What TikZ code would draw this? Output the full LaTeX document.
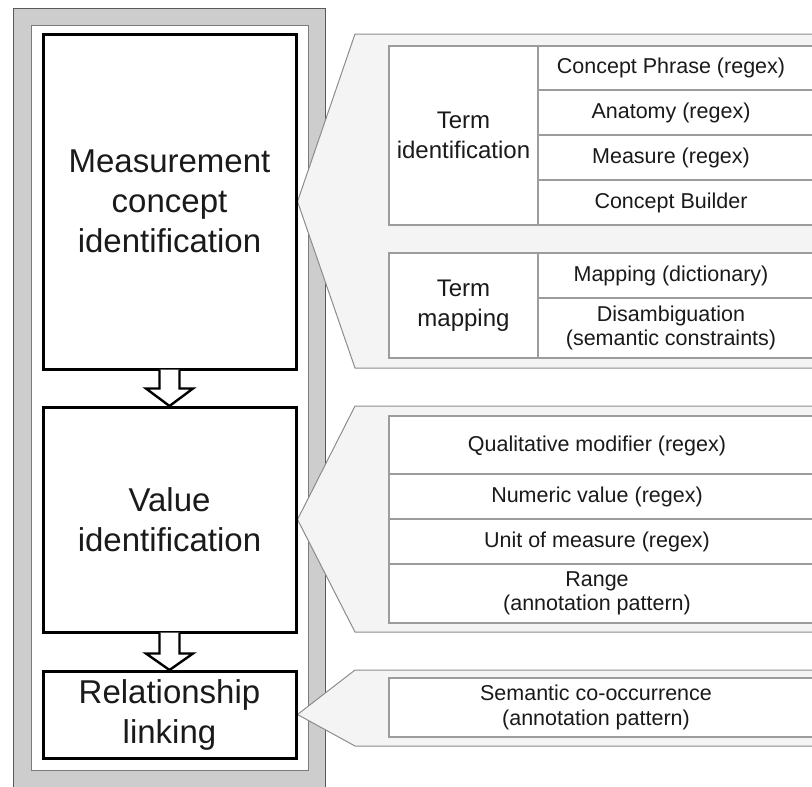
\documentclass[tikz,border=0pt]{standalone}
\usepackage{fontspec}
\setmainfont{Liberation Sans}
\usetikzlibrary{calc}
\pgfdeclarelayer{bglayer}
\pgfdeclarelayer{midlayer}
\pgfsetlayers{bglayer,midlayer,main}
\definecolor{framegray}{HTML}{CDCDCD}
\definecolor{frameline}{HTML}{5A5A5A}
\definecolor{calloutfill}{HTML}{F4F4F4}
\definecolor{calloutline}{HTML}{8C8C8C}
\definecolor{cellline}{HTML}{9C9C9C}
\definecolor{inktext}{HTML}{1A1A1A}
\begin{document}
\begin{tikzpicture}[x=1pt,y=-1pt,
  mainbox/.style={draw=black, line width=3pt, fill=white, align=center, text=inktext,
    font=\fontsize{33}{40}\selectfont, inner sep=0pt},
  hollowarrow/.style={draw=black, line width=2.4pt, fill=white, line join=miter},
  callout/.style={draw=calloutline, line width=1pt, fill=calloutfill},
  cell/.style={draw=cellline, line width=1.3pt, fill=white},
  celltext/.style={align=center, text=inktext, font=\fontsize{21.5}{24.5}\selectfont, inner sep=0pt},
  grouptext/.style={align=center, text=inktext, font=\fontsize{24}{30}\selectfont, inner sep=0pt}
]
\useasboundingbox (0,0) rectangle (812,787);
\clip (0,0) rectangle (812,787);

% frame
\begin{pgfonlayer}{bglayer}
\draw[fill=framegray, draw=frameline, line width=1pt] (13.5,8) rectangle (325,800);
\draw[fill=white, draw=frameline!80, line width=1pt] (31,25) rectangle (308,770);
\end{pgfonlayer}

% main stage boxes
\node[mainbox, minimum width=253pt, minimum height=335pt] (mc) at (169.5,201.5)
  {Measurement\\concept\\identification};
\node[mainbox, minimum width=253pt, minimum height=225pt] (vi) at (169.5,519.5)
  {Value\\identification};
\node[mainbox, minimum width=253pt, minimum height=87pt] (rl) at (169.5,714.5)
  {Relationship\\linking};

% hollow arrows
\draw[hollowarrow] ($(mc.south)+(-10,-1)$) -- ($(mc.south)+(-10,18)$) -- ($(mc.south)+(-23.5,18)$)
  -- ($(vi.north)+(0,0.5)$) -- ($(mc.south)+(23.5,18)$) -- ($(mc.south)+(10,18)$) -- ($(mc.south)+(10,-1)$);
\draw[hollowarrow] ($(vi.south)+(-10,-1)$) -- ($(vi.south)+(-10,20)$) -- ($(vi.south)+(-23.5,20)$)
  -- ($(rl.north)+(0,0.5)$) -- ($(vi.south)+(23.5,20)$) -- ($(vi.south)+(10,20)$) -- ($(vi.south)+(10,-1)$);

% callouts
\begin{pgfonlayer}{midlayer}
\draw[callout] (mc.east) -- (355,34) -- (840,34) -- (840,368) -- (355,368) -- cycle;
\draw[callout] (vi.east) -- (355,406) -- (840,406) -- (840,632) -- (355,632) -- cycle;
\draw[callout] (rl.east) -- (355,670) -- (840,670) -- (840,746) -- (355,746) -- cycle;
\end{pgfonlayer}

% table 1: term identification
\draw[cell] (389,46) rectangle (538,225);
\draw[cell] (538,46) rectangle (840,90);
\draw[cell] (538,90) rectangle (840,135);
\draw[cell] (538,135) rectangle (840,180);
\draw[cell] (538,180) rectangle (840,225);
\node[grouptext] (ti) at (463.5,135.5) {Term\\identification};
\node[celltext] (t11) at (671,68) {Concept Phrase (regex)};
\node[celltext] (t12) at (671,112.5) {Anatomy (regex)};
\node[celltext] (t13) at (671,157.5) {Measure (regex)};
\node[celltext] (t14) at (671,202.5) {Concept Builder};

% table 2: term mapping
\draw[cell] (389,253) rectangle (538,358);
\draw[cell] (538,253) rectangle (840,298);
\draw[cell] (538,298) rectangle (840,358);
\node[grouptext] (tm) at (463.5,305.5) {Term\\mapping};
\node[celltext] (t21) at (671,275.5) {Mapping (dictionary)};
\node[celltext] (t22) at (671,328) {Disambiguation\\(semantic constraints)};

% table 3: value identification
\draw[cell] (389,416) rectangle (840,474);
\draw[cell] (389,474) rectangle (840,519);
\draw[cell] (389,519) rectangle (840,564);
\draw[cell] (389,564) rectangle (840,623);
\node[celltext] (t31) at (597,446) {Qualitative modifier (regex)};
\node[celltext] (t32) at (597,496.5) {Numeric value (regex)};
\node[celltext] (t33) at (597,541.5) {Unit of measure (regex)};
\node[celltext] (t34) at (597,593.5) {Range\\(annotation pattern)};

% table 4: relationship linking
\draw[cell] (389,678) rectangle (840,737);
\node[celltext] (t41) at (596,707.5) {Semantic co-occurrence\\(annotation pattern)};
\end{tikzpicture}
\end{document}
